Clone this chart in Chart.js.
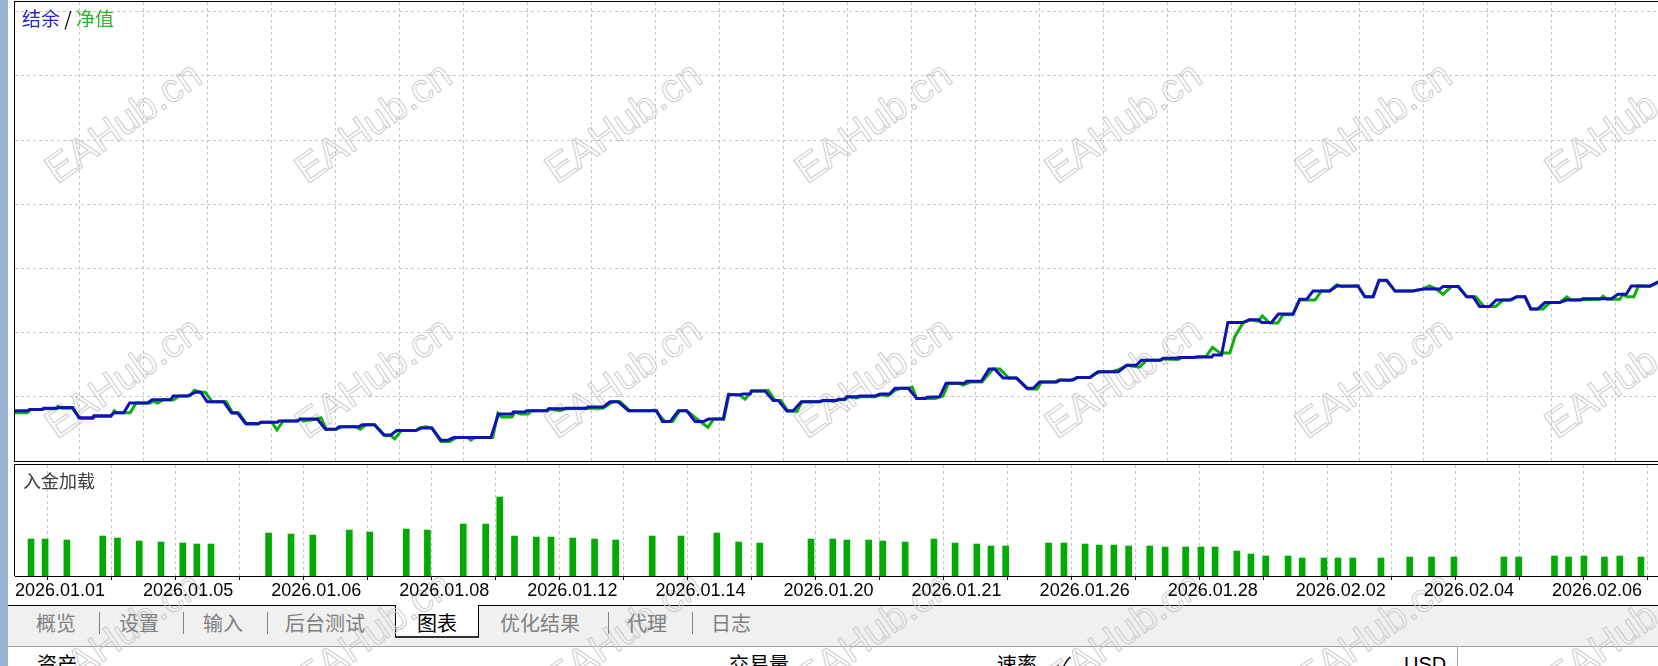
<!DOCTYPE html>
<html>
<head>
<meta charset="utf-8">
<script src="https://cdn.jsdelivr.net/npm/chart.js@4.4.1/dist/chart.umd.min.js"></script>
<style>
  html, body { margin: 0; padding: 0; }
  body { width: 1658px; height: 666px; overflow: hidden; position: relative; background: #fff;
         font-family: "Noto Sans CJK SC", sans-serif; }
  .abs { position: absolute; }
  .bg { z-index: 1; }
  .fg { z-index: 3; }
  #strip { left: 0; top: 0; width: 8px; height: 666px; background: #9ab3d3; }
  #mainFrame { left: 14px; top: 1px; width: 1700px; height: 461px; box-sizing: border-box;
               border: 1px solid #000; border-right: none; }
  #subFrame { left: 14px; top: 464px; width: 1700px; height: 112px; box-sizing: border-box;
              border-top: 1px solid #000; border-left: 1px solid #000; }
  #tabBar { left: 8px; top: 605px; width: 1650px; height: 42px; box-sizing: border-box;
            background: #f0f0f0; border-top: 1px solid #000; border-bottom: 1px solid #a0a0a0; }
  #activeTab { left: 395px; top: 605px; width: 84px; height: 33px; box-sizing: border-box; background: #fff;
               border-left: 1px solid #000; border-right: 1px solid #000; border-bottom: 2px solid #333; z-index: 1; }
  .tab { top: 611px; font-size: 20px; line-height: 24px; color: #808080; white-space: nowrap; }
  .sep { top: 612px; width: 1px; height: 22px; background: #808080; }
  .head { top: 652px; font-size: 20px; line-height: 24px; color: #000; white-space: nowrap; }
  #legend { left: 22px; top: 8px; font-size: 19px; line-height: 20px; white-space: nowrap; }
  #subTitle { left: 23px; top: 470px; font-size: 18px; line-height: 20px; color: #3c3c3c; }
  #marks { left: 0; top: 0; width: 1658px; height: 666px; z-index: 2; pointer-events: none; }
  .mark { position: absolute; font-family: "Liberation Sans", sans-serif; font-size: 40px; color: transparent;
          -webkit-text-stroke: 1px #cdcdcd; white-space: nowrap; transform: translate(-50%, -50%) rotate(-35deg); }
  canvas { position: absolute; }
</style>
</head>
<body>
<div id="strip" class="abs bg"></div>
<div id="mainFrame" class="abs bg"></div>
<div id="subFrame" class="abs bg"></div>
<div id="tabBar" class="abs bg"></div>
<div id="activeTab" class="abs"></div>
<div id="marks" class="abs"></div>

<canvas id="mainCanvas" class="fg" width="1665" height="459" style="left:15px; top:2px; width:1665px; height:459px;"></canvas>
<canvas id="loadCanvas" class="fg" width="1665" height="139" style="left:15px; top:465px; width:1665px; height:139px;"></canvas>

<div id="legend" class="abs fg"><span style="color:#2626cc">结余</span> <span style="color:#000">/</span> <span style="color:#26bb26">净值</span></div>
<div id="subTitle" class="abs fg">入金加载</div>

<div class="abs tab fg" style="left:36px">概览</div>
<div class="abs sep fg" style="left:99px"></div>
<div class="abs tab fg" style="left:119px">设置</div>
<div class="abs sep fg" style="left:183px"></div>
<div class="abs tab fg" style="left:203px">输入</div>
<div class="abs sep fg" style="left:267px"></div>
<div class="abs tab fg" style="left:285px">后台测试</div>
<div class="abs tab fg" style="left:417px; color:#000">图表</div>
<div class="abs tab fg" style="left:500px">优化结果</div>
<div class="abs sep fg" style="left:608px"></div>
<div class="abs tab fg" style="left:627px">代理</div>
<div class="abs sep fg" style="left:692px"></div>
<div class="abs tab fg" style="left:711px">日志</div>

<div class="abs head fg" style="left:37px">资产</div>
<div class="abs head fg" style="left:729px">交易量</div>
<div class="abs head fg" style="left:997px">速率</div>
<div class="abs head fg" style="left:1057px">✓</div>
<div class="abs head fg" style="left:1404px; font-family:'Liberation Sans', sans-serif">USD</div>
<div class="abs fg" style="left:1457px; top:647px; width:1px; height:19px; background:#a0a0a0"></div>

<script>
// x is the position along the test run, one unit per grid column
const balance = [
  [-1.00,9677],[-0.81,9677],[-0.77,9679],[-0.58,9679],[-0.55,9681],[-0.34,9681],[-0.31,9682],[-0.10,9682],
  [0.00,9666],[0.21,9666],[0.23,9669],[0.49,9669],[0.55,9674],[0.70,9674],[0.79,9689],[1.07,9689],
  [1.14,9694],[1.43,9694],[1.47,9700],[1.69,9700],[1.82,9706],[1.90,9706],[2.00,9691],[2.26,9691],
  [2.38,9674],[2.47,9674],[2.60,9657],[2.81,9657],[2.84,9659],[3.10,9659],[3.12,9661],[3.41,9661],
  [3.46,9664],[3.72,9664],[3.85,9648],[4.01,9648],[4.06,9652],[4.37,9652],[4.42,9655],[4.61,9655],
  [4.76,9639],[4.87,9639],[4.96,9646],[5.26,9646],[5.35,9650],[5.51,9650],[5.65,9631],[5.76,9631],
  [5.85,9635],[6.43,9635],[6.55,9672],[6.76,9672],[6.78,9675],[6.96,9675],[6.99,9677],[7.30,9677],
  [7.33,9680],[7.56,9680],[7.59,9681],[7.93,9681],[7.95,9683],[8.19,9683],[8.29,9691],[8.42,9691],
  [8.58,9677],[9.02,9677],[9.11,9660],[9.23,9660],[9.36,9677],[9.49,9677],[9.62,9660],[9.75,9660],
  [9.83,9664],[10.06,9664],[10.14,9702],[10.32,9702],[10.37,9703],[10.48,9703],[10.50,9708],[10.71,9708],
  [10.84,9693],[10.92,9693],[11.05,9677],[11.15,9677],[11.28,9691],[11.57,9691],[11.62,9693],[11.83,9693],
  [11.86,9695],[11.96,9695],[11.99,9699],[12.14,9699],[12.19,9700],[12.43,9700],[12.51,9703],[12.66,9703],
  [12.74,9712],[12.95,9712],[13.08,9696],[13.21,9696],[13.24,9698],[13.44,9699],[13.54,9720],[13.83,9720],
  [13.86,9723],[14.09,9723],[14.21,9742],[14.30,9742],[14.43,9728],[14.64,9728],[14.80,9712],[14.90,9712],
  [15.00,9722],[15.27,9722],[15.32,9725],[15.52,9725],[15.58,9729],[15.79,9729],[15.91,9738],[16.23,9738],
  [16.36,9748],[16.51,9748],[16.59,9756],[16.88,9756],[16.93,9759],[17.14,9759],[17.19,9760],[17.40,9760],
  [17.45,9761],[17.69,9761],[17.71,9764],[17.84,9764],[17.94,9815],[18.18,9815],[18.28,9819],[18.41,9819],
  [18.47,9815],[18.62,9815],[18.73,9828],[18.96,9828],[19.06,9851],[19.17,9851],[19.27,9864],[19.53,9864],
  [19.64,9872],[19.97,9872],[20.08,9855],[20.21,9855],[20.30,9881],[20.42,9881],[20.55,9864],[20.83,9864],
  [20.99,9867],[21.25,9867],[21.30,9871],[21.54,9871],[21.67,9855],[21.77,9855],[21.87,9840],[22.03,9840],
  [22.13,9850],[22.34,9850],[22.45,9855],[22.58,9855],[22.67,9836],[22.78,9836],[22.89,9846],[23.12,9846],
  [23.23,9850],[23.45,9850],[23.48,9852],[23.93,9852],[24.03,9859],[24.16,9859],[24.24,9872],[24.53,9872],
  [24.66,9878],[25.00,9880]
];

const equity = [
  [-1.00,9674],[-0.81,9674],[-0.75,9679],[-0.58,9679],[-0.53,9680],[-0.37,9680],[-0.33,9684],[-0.27,9681],[-0.11,9681],
  [0.02,9665],[0.22,9665],[0.25,9668],[0.50,9668],[0.55,9677],[0.59,9674],[0.80,9674],[0.89,9689],[1.11,9689],
  [1.16,9692],[1.23,9689],[1.31,9694],[1.48,9694],[1.56,9700],[1.73,9700],[1.80,9709],[1.90,9706],[1.97,9706],
  [2.08,9691],[2.30,9691],[2.40,9673],[2.50,9673],[2.62,9656],[2.79,9656],[2.84,9659],[3.01,9659],[3.09,9647],
  [3.19,9661],[3.40,9661],[3.45,9664],[3.50,9661],[3.72,9664],[3.78,9666],[3.86,9648],[4.02,9648],[4.11,9652],
  [4.32,9652],[4.39,9648],[4.48,9655],[4.62,9655],[4.78,9638],[4.87,9638],[4.93,9633],[5.03,9646],[5.26,9646],
  [5.32,9650],[5.42,9652],[5.51,9650],[5.65,9629],[5.79,9629],[5.89,9635],[6.07,9635],[6.12,9631],[6.18,9635],
  [6.46,9635],[6.54,9673],[6.60,9667],[6.76,9667],[6.81,9675],[6.89,9672],[7.01,9672],[7.07,9677],[7.32,9677],
  [7.35,9680],[7.51,9677],[7.60,9680],[7.96,9681],[8.18,9681],[8.34,9691],[8.45,9691],[8.60,9677],[8.91,9677],
  [8.99,9678],[9.15,9660],[9.27,9660],[9.38,9677],[9.48,9677],[9.54,9673],[9.65,9664],[9.82,9651],[9.91,9664],
  [10.07,9664],[10.15,9703],[10.32,9701],[10.40,9695],[10.51,9708],[10.68,9708],[10.76,9709],[10.87,9693],
  [10.96,9693],[11.07,9676],[11.21,9676],[11.29,9691],[11.53,9691],[11.62,9693],[11.78,9692],[11.85,9694],
  [11.96,9694],[12.01,9699],[12.14,9697],[12.23,9699],[12.43,9699],[12.52,9702],[12.63,9700],[12.74,9709],
  [12.83,9712],[12.94,9712],[13.01,9714],[13.08,9696],[13.37,9696],[13.49,9700],[13.58,9720],[13.75,9720],
  [13.80,9717],[13.93,9722],[14.10,9722],[14.27,9742],[14.38,9742],[14.52,9728],[14.64,9728],[14.82,9711],
  [14.96,9711],[15.03,9722],[15.24,9722],[15.29,9725],[15.47,9724],[15.61,9729],[15.78,9729],[15.85,9734],
  [15.96,9738],[16.13,9738],[16.23,9741],[16.36,9748],[16.56,9745],[16.67,9756],[16.88,9756],[16.94,9758],
  [17.16,9757],[17.22,9760],[17.40,9760],[17.45,9761],[17.60,9762],[17.70,9776],[17.82,9767],[17.97,9767],
  [18.05,9793],[18.18,9815],[18.28,9819],[18.41,9817],[18.48,9825],[18.59,9814],[18.72,9814],[18.80,9827],
  [18.95,9827],[19.06,9850],[19.30,9850],[19.40,9864],[19.53,9864],[19.64,9874],[19.72,9871],[19.97,9872],
  [20.08,9855],[20.20,9855],[20.30,9880],[20.42,9880],[20.55,9864],[20.83,9864],[20.98,9867],[21.09,9872],
  [21.19,9867],[21.30,9859],[21.43,9871],[21.53,9871],[21.67,9855],[21.81,9855],[21.94,9840],[22.12,9840],
  [22.24,9850],[22.37,9850],[22.45,9855],[22.58,9855],[22.67,9836],[22.86,9836],[22.97,9846],[23.12,9846],
  [23.23,9855],[23.30,9850],[23.75,9851],[23.80,9856],[23.86,9851],[24.06,9851],[24.11,9859],[24.17,9855],
  [24.28,9855],[24.35,9872],[24.53,9871],[24.66,9878],[25.00,9880]
];

// deposit load, percent
const depositLoad = [
  [-0.75,33.3],[-0.53,33.3],[-0.19,32.4],[0.37,36.0],[0.60,34.2],[0.94,31.5],[1.28,30.6],[1.62,29.7],
  [1.84,28.8],[2.06,28.8],[2.96,38.7],[3.31,37.8],[3.65,36.9],[4.22,41.4],[4.54,39.6],[5.11,42.3],
  [5.44,41.4],[6.00,46.8],[6.35,46.8],[6.57,71.2],[6.80,36.0],[7.14,35.1],[7.37,35.1],[7.71,34.2],
  [8.05,33.3],[8.38,32.4],[8.95,36.0],[9.40,36.0],[9.96,38.7],[10.30,30.6],[10.63,29.7],[11.43,33.3],
  [11.77,33.3],[11.99,32.4],[12.33,32.4],[12.55,31.5],[12.90,30.6],[13.35,33.3],[13.68,29.7],[14.02,28.8],
  [14.24,27.0],[14.47,27.0],[15.14,29.7],[15.38,29.7],[15.71,28.8],[15.93,27.9],[16.16,27.9],[16.39,27.0],
  [16.72,27.0],[16.96,26.1],[17.28,26.1],[17.52,26.1],[17.74,26.1],[18.08,22.5],[18.30,19.8],[18.53,18.0],
  [18.88,18.0],[19.10,16.2],[19.44,16.2],[19.66,16.2],[19.89,16.2],[20.33,16.2],[20.78,17.1],[21.12,17.1],
  [21.47,17.1],[22.25,17.1],[22.48,17.1],[23.04,18.0],[23.26,17.1],[23.50,18.0],[23.82,17.1],[24.06,18.0],
  [24.39,17.1]
];

const dateTickAt = [-1, 1, 3, 5, 7, 9, 11, 13, 15, 17, 19, 21, 23];
const dateLabels = ['2026.01.01', '2026.01.05', '2026.01.06', '2026.01.08', '2026.01.12', '2026.01.14',
                    '2026.01.20', '2026.01.21', '2026.01.26', '2026.01.28', '2026.02.02', '2026.02.04', '2026.02.06'];
const balanceGrid = [9700, 9800, 9900, 10000, 10100, 10200, 10300];

const blueLine = '#1212b4';
const greenLine = '#0cb00c';
const barGreen = '#03aa03';
const gridGrey = '#c6c6c6';

// watermark tiles
const marks = document.getElementById('marks');
for (let r = 0; r < 3; r++) {
    for (let c = 0; c < 7; c++) {
        const m = document.createElement('div');
        m.className = 'mark';
        m.textContent = 'EAHub.cn';
        m.style.left = (123 + c * 250) + 'px';
        m.style.top = (122 + r * 255) + 'px';
        marks.appendChild(m);
    }
}

const toPoints = arr => arr.map(p => ({ x: p[0], y: p[1] }));

const columns = [];
for (let i = 0; i <= 24; i++) columns.push(i);

const gridColor = ctx => (ctx.tick && ctx.tick.value < 0) ? 'rgba(0,0,0,0)' : gridGrey;

new Chart(document.getElementById('mainCanvas'), {
    type: 'line',
    data: {
        datasets: [
            { label: '结余', data: toPoints(balance), borderColor: blueLine, borderWidth: 3,
              pointRadius: 0, tension: 0, order: 0 },
            { label: '净值', data: toPoints(equity), borderColor: greenLine, borderWidth: 3,
              pointRadius: 0, tension: 0, order: 1 }
        ]
    },
    options: {
        responsive: false,
        animation: false,
        events: [],
        plugins: { legend: { display: false }, tooltip: { enabled: false } },
        layout: { padding: 0 },
        scales: {
            x: {
                type: 'linear', min: -1, max: 25,
                afterBuildTicks: s => { s.ticks = columns.map(v => ({ value: v })); },
                afterFit: s => { s.height = 0; },
                ticks: { display: false },
                grid: { color: gridColor, drawTicks: false },
                border: { display: false, dash: [3, 3] }
            },
            y: {
                type: 'linear', min: 9598.4375, max: 10315.625,
                afterBuildTicks: s => { s.ticks = balanceGrid.map(v => ({ value: v })); },
                afterFit: s => { s.width = 0; },
                ticks: { display: false },
                grid: { color: gridGrey, drawTicks: false },
                border: { display: false, dash: [3, 3] }
            }
        }
    }
});

new Chart(document.getElementById('loadCanvas'), {
    type: 'bar',
    data: {
        datasets: [
            { label: '入金加载', data: toPoints(depositLoad), backgroundColor: barGreen,
              barThickness: 6, borderWidth: 0, grouped: false }
        ]
    },
    options: {
        responsive: false,
        animation: false,
        events: [],
        plugins: { legend: { display: false }, tooltip: { enabled: false } },
        layout: { padding: 0 },
        scales: {
            x: {
                type: 'linear', min: -1, max: 25, offset: false,
                afterBuildTicks: s => { s.ticks = [-1].concat(columns).map(v => ({ value: v })); },
                afterFit: s => { s.height = 28; },
                ticks: {
                    display: true, align: 'start', autoSkip: false, maxRotation: 0, minRotation: 0,
                    padding: 0, color: '#000',
                    font: { family: 'Liberation Sans', size: 18 },
                    callback: v => {
                        const i = dateTickAt.indexOf(v);
                        return i >= 0 ? dateLabels[i] : '';
                    }
                },
                grid: { color: gridColor, drawTicks: true, tickLength: 4, tickColor: '#000', tickBorderDash: [] },
                border: { display: true, color: '#000', width: 1, dash: [3, 3] }
            },
            y: {
                type: 'linear', min: 0, max: 100, display: false
            }
        }
    }
});
</script>
</body>
</html>
